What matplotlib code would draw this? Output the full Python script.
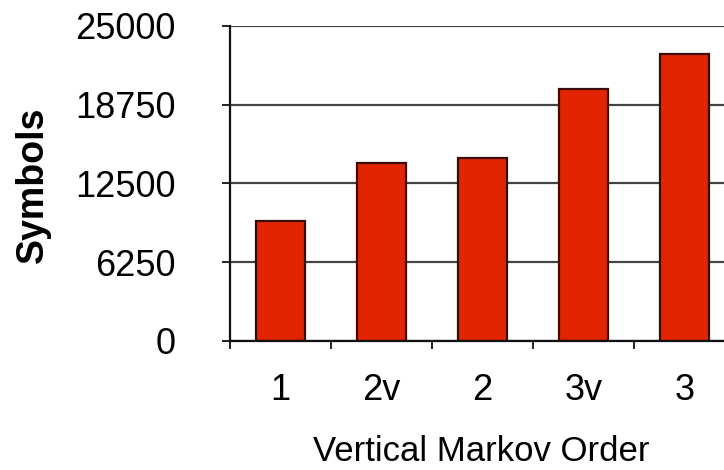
import matplotlib
matplotlib.use("Agg")
import matplotlib.pyplot as plt
import numpy as np

categories = ["1", "2v", "2", "3v", "3"]
symbols = [9500, 14100, 14550, 20000, 22750]
y_ticks = [0, 6250, 12500, 18750, 25000]

plt.rcParams["font.family"] = ["Liberation Sans", "DejaVu Sans"]

fig = plt.figure(figsize=(7.24, 4.70), dpi=100)
ax = fig.add_axes([230 / 724, 1 - 341 / 470, 505 / 724, 315 / 470])

x = np.arange(len(categories))
ax.bar(x, symbols, width=0.49, color="#E32400", edgecolor="#3A0C00",
       linewidth=1.6, zorder=3)

ax.set_xlim(-0.5, len(categories) - 0.5)
ax.set_ylim(0, 25000)
ax.set_yticks(y_ticks)
ax.set_yticklabels([str(t) for t in y_ticks], fontsize=26)
ax.yaxis.grid(True, color="#444444", linewidth=1.6, zorder=1)

ax.set_xticks(x)
ax.set_xticklabels(categories, fontsize=26)
ax.set_xticks(np.arange(len(categories) + 1) - 0.5, minor=True)
ax.tick_params(axis="x", which="major", length=0, pad=23)
ax.tick_params(axis="x", which="minor", direction="out", length=6,
               width=1.4, color="#222222")
ax.tick_params(axis="y", direction="out", length=6, width=1.4,
               color="#222222", pad=33)

for side in ("top", "right"):
    ax.spines[side].set_visible(False)
for side in ("left", "bottom"):
    ax.spines[side].set_color("#111111")
    ax.spines[side].set_linewidth(1.6)
    ax.spines[side].set_zorder(4)

fig.text(481 / 724, 1 - 461 / 470, "Vertical Markov Order", fontsize=25,
         ha="center", va="baseline")
fig.text(33 / 724, 1 - 185 / 470, "Symbols", fontsize=27, fontweight="bold",
         rotation=90, ha="center", va="center")

fig.savefig("out.png", dpi=100)
